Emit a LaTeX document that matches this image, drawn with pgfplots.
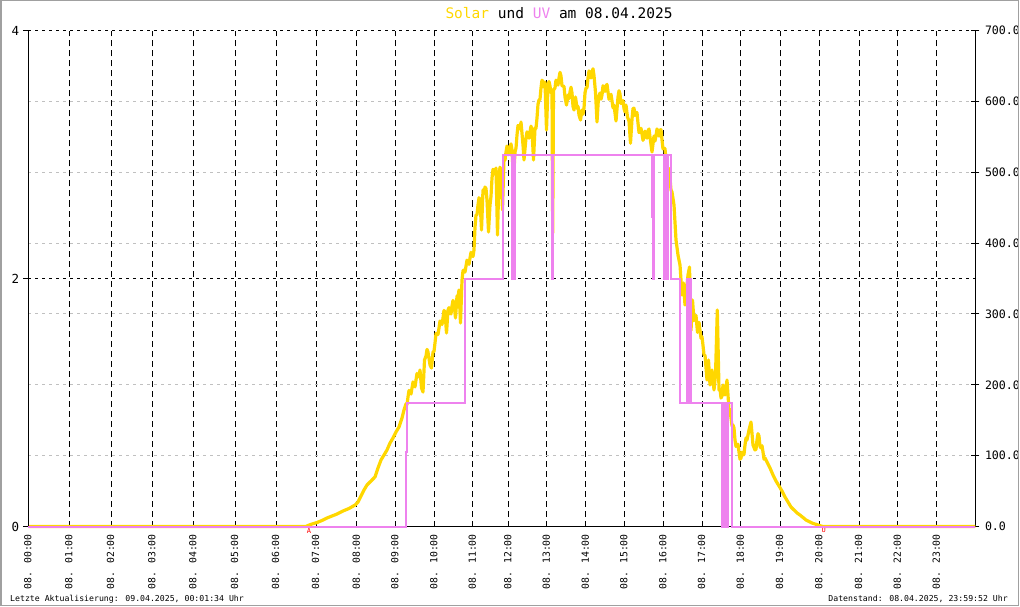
\documentclass[border=0pt]{standalone}
\usepackage{pgfplots}
\usepackage{pgfplotstable}
\pgfplotsset{compat=1.18}
\usepackage{fontspec}
\setmainfont{DejaVu Sans Mono}
\setmonofont{DejaVu Sans Mono}
\definecolor{solar}{HTML}{FFD700}
\definecolor{uv}{HTML}{EE82EE}
\definecolor{gridgray}{HTML}{C0C0C0}
\definecolor{framegray}{HTML}{A0A0A0}

% x = position on the chart's time scale (hour ticks listed below), y = W/m^2
\pgfplotstableread{
x y
28.3 0
306 0
308 1.4
312 3.5
317 5.6
322 8.5
327 12.0
332 14.8
337 17.6
343 21.9
349 25.4
355 30.3
358 34.6
361 43.0
364 51.5
367 58.6
371 64.2
375 69.9
378 82.6
381 93.9
384 100.9
387 108.0
390 117.8
393 124.9
396 133.4
399 140.4
402 153.1
404 164.4
406 172.9
407 172
408 182.8
409 192
410 189.8
411 187
412 195.5
413 204
414 199.7
415 197
416 206.8
417 216
418 212.4
419 211
420 220.9
421.5 195.5
423 189.8
424.5 235.0
426 240.6
427 250
428 246.3
430 228.0
431.5 223.7
433 246.3
434 247
435 259.0
436 272
437 273.0
438 271
439 280.1
440 290
441 288.6
442 285
443 294.3
444 305
445 302.7
446.5 273.0
448 305.5
449 309
450 301.3
451 300
452 311.2
453 319
454 315.4
455.5 294.3
457 325.3
458 324
459 333.8
460.5 287.2
462 347.9
463 361
464 362.0
465 359
466 367.6
467 376
468 373.3
469 370
470 378.9
471 387
472 383.2
473 381
474 390.2
475 422
476 439.6
477 440
478 453.7
479 464
480 460.8
481.5 418.4
483 475.0
484 470
485 479.1
486 477
487 460.8
488.5 415.6
490 453.7
491 466
492 491.8
493 504
494 503.1
495 497
496 505.9
497.5 411.4
499 496.0
500 507
501 503.1
502.5 446.7
504 520.0
505 517
506 528.5
507 537
508 531.3
509 526
510 534.2
511 540
512 531.3
513.5 489.0
515 528.5
516 534
517 552.5
518 566
519 565.2
520 561
521 570.8
523 538.4
524 517.3
526 548.3
527 557
528 552.5
529 548
530 556.8
531 565
532 559.6
533.5 517.3
535 562.4
536 562
537 576.5
538 596
539 601.9
540 603
541 618.9
542 630
543 627.3
544 620
545 627.3
546.5 559.6
548 621.6
549 628
550 621.6
551 612
552 616.0
552.7 414.2
553.5 616.0
555 618.9
556 630
557 627.3
558 623
559 633.0
560 641
561 635.8
562 622
563 621.6
564 621
565 606.1
566.5 594.8
568 608.9
569 604
570 613.2
571 620
572 611.8
573 593
574 587.8
575.5 606.1
577 590.3
578 593
579 580.7
580.5 573.7
582 587.8
583 582
584 590.3
585 612
586 618.9
587 619
588 633.0
589 643
590 639.4
591 633
592 640.8
593 646
594 636.5
595.5 612.5
597 570.8
598.5 606.1
600 611.8
601 603
602 609.0
603 622
604 620.2
605 614
606 621.6
607 624
608 613.2
609 603
610 606.1
611 610
612 600.5
613 591
614 594.8
616 572.3
618 606.1
619 615
620 610.4
621 597
622 598.4
623 601
624 590.0
625 585
626 594.8
627.5 577.9
629 572.3
630.5 540.9
632 575.1
633 590
634 590.3
635 580
636 584.6
637 584
638 569.1
639 556
640 556.8
641 562
642 554.0
643 545
644 549.7
645 558
646 552.5
647 548
648 558.2
649 561
650 549.7
652 528.5
654 551.1
655 544
656 551.1
657 561
658 556.8
659 551
660 559.6
661 560
662 545.5
663 533
664 534.2
665 533
666 517.3
667 503
668 503.1
669 505
670 491.8
671 475
672 472.1
674 453.7
676 404.3
678 383.2
680 369.0
682 326.7
683.5 343.6
685 312.5
686.5 333.7
688 354.9
689.5 366.2
691 276.6
692.5 319.6
694 290.7
696 297.8
697.5 274.0
699 288.1
701 265.5
702 268
703 255.6
704 242
705 242.0
707 206.7
708.5 234.9
710 199.7
712 220.9
714 192.7
715.5 213.8
717.3 305.5
719 192.7
720 194
721 181.4
722 184
723 199.7
725 185.6
727 206.7
729 164.4
730 165
731 153.1
732 142
733 143.2
734 139
735 122.1
736 113
737 115.0
738 116
739 105.1
740 95
741 96.6
742 105
743 100.9
744 102
745 115.0
746 125
747 122.1
749 136.2
751 147.5
753 115.0
755 108.0
756 109
757 122.1
758 131
759 127.7
760 113
761 110.8
762 114
763 105.1
764 95
765 96.6
767 91.0
770 82.6
773 72.7
776 64.2
779 57.2
782 50.1
785 41.6
788 34.6
791 27.5
794 23.3
797 19.1
800 16.2
803 12.7
806 9.2
809 7.1
812 4.9
815 3.5
818 2.1
821 0.7
823 0
975.3 0
}\solartable

% UV index, held constant from each x to the next
\pgfplotstableread{
x y
28.3 0
405.5 0.6
406.5 1
465 2
503.3 3
512.3 2
513.3 3
514.3 2
515.3 3
552.3 2
553.0 3
651.5 2.5
652.2 3
653 2
654.3 3
664 2
665.5 3
666.5 2
668.3 3
670.7 2
680 1
686.7 2
687.7 1
689 2
690.7 1
721.7 0
723 1
724.3 0
725.7 1
727 0
728.3 1
731.7 0
975.3 0
}\uvtable

\begin{document}
\begin{tikzpicture}[x=1pt,y=1pt]
\path[use as bounding box] (0,0) rectangle (1020,606);

% Solar axis (right)
\begin{axis}[
  at={(28.3pt,79.5pt)}, anchor=south west,
  scale only axis, width=947pt, height=496pt,
  xmin=28.3, xmax=975.3, ymin=0, ymax=700,
  clip=false,
  axis x line*=bottom, axis y line*=right,
  axis line style={black, line width=1.2pt},
  xtick={28.3,69.3,111,152.3,193.3,235,276,316,356.7,395.3,434.3,472.7,508.3,546.7,585.7,624.3,663.3,702,740.7,780,819.3,859,897.7,936.7},
  xticklabels={08. 00:00,08. 01:00,08. 02:00,08. 03:00,08. 04:00,08. 05:00,08. 06:00,08. 07:00,08. 08:00,08. 09:00,08. 10:00,08. 11:00,08. 12:00,08. 13:00,08. 14:00,08. 15:00,08. 16:00,08. 17:00,08. 18:00,08. 19:00,08. 20:00,08. 21:00,08. 22:00,08. 23:00},
  xtick style={draw=none},
  xticklabel style={rotate=90, anchor=east, inner sep=0pt, xshift=-3.5pt, yshift=0.5pt, font=\fontsize{9.8}{10}\selectfont},
  xmajorgrids,
  ytick={0,100,200,300,400,500,600,700},
  yticklabels={0.0,100.0,200.0,300.0,400.0,500.0,600.0,700.0},
  ytick style={black, line width=1pt},
  tick align=center, major tick length=8pt,
  yticklabel style={anchor=west, inner sep=0pt, xshift=5.5pt, font=\fontsize{11.6}{12}\selectfont},
  ymajorgrids,
  major grid style={gridgray, line width=1pt, dash pattern=on 3pt off 4pt},
  x grid style={black, line width=1pt, dash pattern=on 6pt off 4pt},
  extra y ticks={350,700},
  extra y tick labels={},
  extra y tick style={major tick length=0pt, grid=major, major grid style={black, line width=1pt, dash pattern=on 3pt off 4pt}},
]
\addplot[solar, line width=3.2pt, line join=round] table[x=x,y=y] {\solartable};
\node[red, inner sep=0pt, anchor=north, font=\fontsize{7}{7}\selectfont] at (axis cs:309,0) [yshift=-1.5pt] {A};
\node[red, inner sep=0pt, anchor=north, font=\fontsize{7}{7}\selectfont] at (axis cs:823.7,0) [yshift=-1pt] {U};
\end{axis}

% UV axis (left)
\begin{axis}[
  at={(28.3pt,79.5pt)}, anchor=south west,
  scale only axis, width=947pt, height=496pt,
  xmin=28.3, xmax=975.3, ymin=0, ymax=4,
  clip=false,
  axis x line=none, axis y line*=left,
  axis line style={black, line width=1.2pt},
  ytick={0,2,4}, yticklabels={0,2,4},
  ytick style={black, line width=1pt},
  tick align=outside, major tick length=5pt,
  yticklabel style={anchor=east, inner sep=0pt, xshift=-4pt, font=\fontsize{12.5}{13}\selectfont},
]
\addplot[uv, line width=2pt, const plot] table[x=x,y=y] {\uvtable};
\end{axis}

\node[font=\fontsize{14.5}{16}\selectfont] at (559,593) {\textcolor{solar}{Solar} und \textcolor{uv}{UV} am 08.04.2025};
\node[anchor=west, inner sep=0pt, font=\fontsize{8.2}{9}\selectfont] at (10,7) {Letzte Aktualisierung: 09.04.2025, 00:01:34 Uhr};
\node[anchor=east, inner sep=0pt, font=\fontsize{8.2}{9}\selectfont] at (1008,7) {Datenstand: 08.04.2025, 23:59:52 Uhr};

\draw[framegray, line width=1.5pt] (0.75,0.75) rectangle (1018.5,605.25);
\end{tikzpicture}
\end{document}
